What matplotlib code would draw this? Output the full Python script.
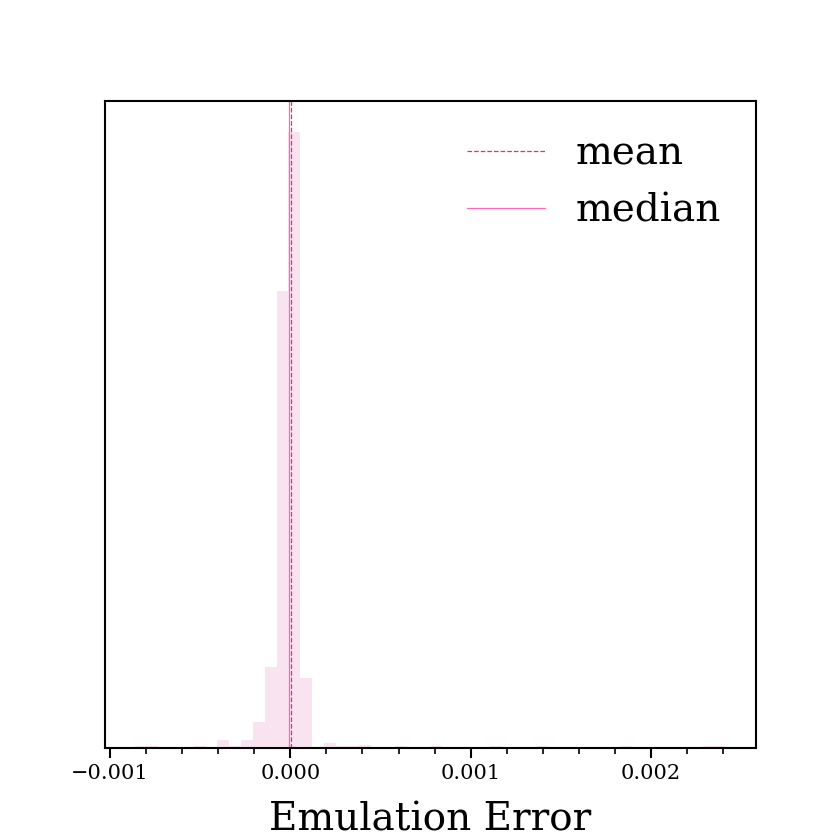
import numpy as np
import matplotlib
matplotlib.use("Agg")
import matplotlib.pyplot as plt
from matplotlib.ticker import AutoMinorLocator

plt.rcParams['font.family'] = 'DejaVu Serif'

# histogram of emulation errors (50 bins, counts)
err_min = -0.000864
err_max = 0.002419
n_bins = 50
counts = [1, 1, 0, 0, 0, 1, 0, 6, 1, 6,
          21, 67, 380, 513, 58, 0, 4, 1, 1, 2,
          0, 0, 1, 0, 0, 1, 0, 0, 0, 0,
          1, 0, 0, 0, 1, 0, 0, 0, 0, 0,
          0, 1, 0, 0, 0, 0, 0, 0, 1, 1]
err_mean = 0.000006
err_median = -0.000005

edges = np.linspace(err_min, err_max, n_bins + 1)
centers = 0.5 * (edges[:-1] + edges[1:])

fig, ax = plt.subplots(figsize=(8.4, 8.4), dpi=100)
ax.hist(centers, bins=edges, weights=counts, color='#f9e3f0')
ax.axvline(err_mean, color='#e7298a', ls='--', lw=0.9, label='mean')
ax.axvline(err_median, color='#ff69b4', ls='-', lw=0.9, label='median')

ax.set_xticks([-0.001, 0.0, 0.001, 0.002])
ax.xaxis.set_minor_locator(AutoMinorLocator())
ax.set_yticks([])
ax.tick_params(axis='x', which='major', labelsize=15, length=7, width=1.5, pad=5)
ax.tick_params(axis='x', which='minor', length=4, width=1.2)
for s in ax.spines.values():
    s.set_linewidth(1.5)

ax.set_xlabel('Emulation Error', fontsize=28, labelpad=13)
ax.legend(frameon=False, fontsize=28, loc='upper right')

plt.savefig('out.png')
